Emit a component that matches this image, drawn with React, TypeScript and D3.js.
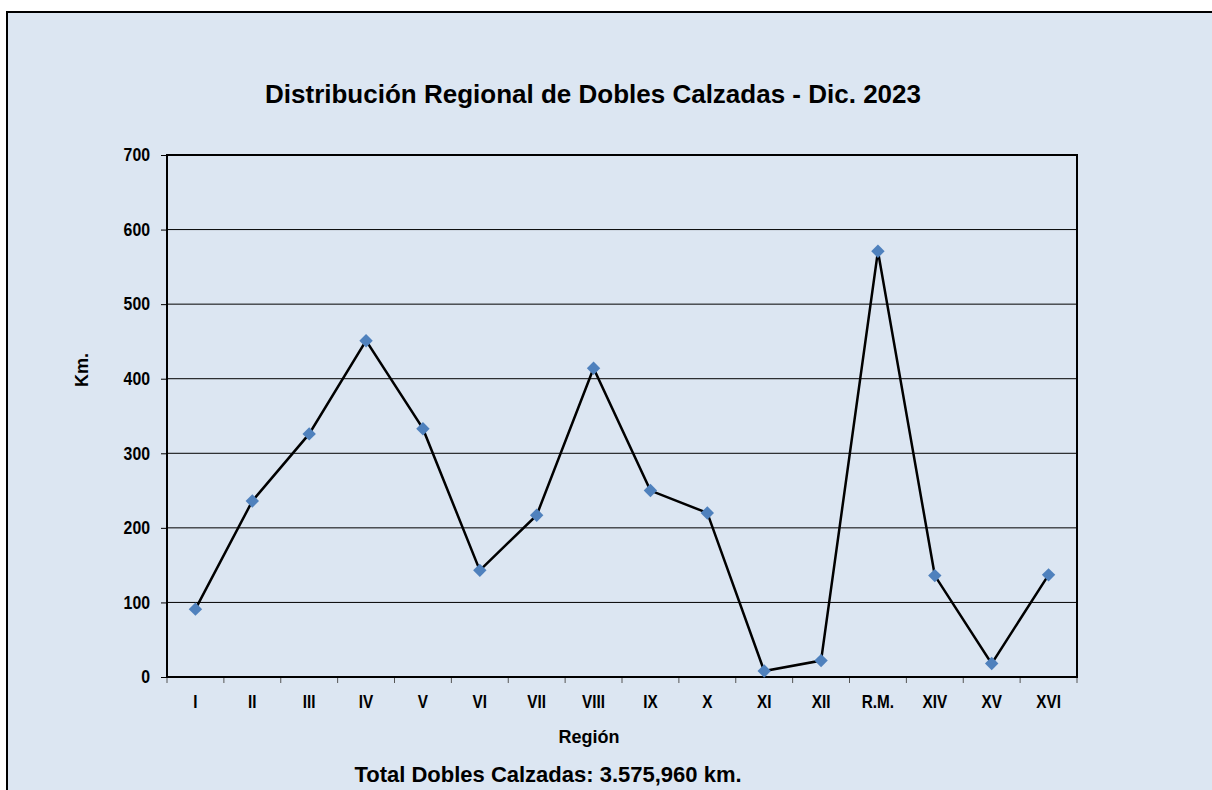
import React, { useEffect, useRef } from "react";
import * as d3 from "d3";

const regions = ["I", "II", "III", "IV", "V", "VI", "VII", "VIII", "IX", "X", "XI", "XII", "R.M.", "XIV", "XV", "XVI"];
const km = [91, 236, 326, 451, 333, 143, 217, 414, 250, 220, 8, 22, 571, 136, 18, 137];
const yTicks = [0, 100, 200, 300, 400, 500, 600, 700];

const title = "Distribución Regional de Dobles Calzadas - Dic. 2023";
const xTitle = "Región";
const yTitle = "Km.";
const footer = "Total Dobles Calzadas: 3.575,960 km.";

const W = 1212;
const H = 790;

const App = () => {
  const ref = useRef<SVGSVGElement>(null);

  useEffect(() => {
    const svg = d3.select(ref.current);
    svg.selectAll("*").remove();
    const font = "'Liberation Sans', Arial, sans-serif";

    // outer frame (runs past the right/bottom of the picture)
    svg.append("rect")
      .attr("x", 7).attr("y", 12)
      .attr("width", W + 20).attr("height", H + 20)
      .attr("fill", "#dce6f2")
      .attr("stroke", "#000").attr("stroke-width", 2);

    const margin = { top: 155, left: 167, right: 135, bottom: 113 };
    const innerW = W - margin.left - margin.right;
    const innerH = H - margin.top - margin.bottom;

    const x = d3.scaleBand().domain(regions).range([0, innerW]).padding(0);
    const y = d3.scaleLinear().domain([0, 700]).range([innerH, 0]);

    const g = svg.append("g").attr("transform", `translate(${margin.left},${margin.top})`);

    // gridlines
    g.selectAll(".grid")
      .data(yTicks.filter((t) => t > 0 && t < 700))
      .enter()
      .append("line")
      .attr("x1", 0).attr("x2", innerW)
      .attr("y1", (d) => y(d)).attr("y2", (d) => y(d))
      .attr("stroke", "#000").attr("stroke-width", 1);

    // y axis
    const yAxis = g.append("g").call(
      d3.axisLeft(y).tickValues(yTicks).tickSize(6).tickPadding(11).tickFormat(d3.format("d"))
    );
    yAxis.select(".domain").remove();
    yAxis.selectAll("line").attr("stroke", "#000");
    yAxis.selectAll("text")
      .attr("x", 0)
      .attr("transform", "translate(-17,0) scale(0.88,1)")
      .attr("font-family", font).attr("font-size", 18).attr("font-weight", "bold").attr("fill", "#000");

    // x axis labels
    const xAxis = g.append("g").attr("transform", `translate(0,${innerH})`)
      .call(d3.axisBottom(x).tickSize(0).tickPadding(18));
    xAxis.select(".domain").remove();
    xAxis.selectAll("text")
      .attr("transform", "scale(0.85,1)")
      .attr("font-family", font).attr("font-size", 18).attr("font-weight", "bold").attr("fill", "#000");

    // x ticks at category boundaries
    const bounds = regions.map((r) => x(r)!).concat([innerW]);
    g.selectAll(".xtick")
      .data(bounds)
      .enter()
      .append("line")
      .attr("x1", (d) => d).attr("x2", (d) => d)
      .attr("y1", innerH).attr("y2", innerH + 6)
      .attr("stroke", "#555").attr("stroke-width", 1);

    // plot frame
    g.append("rect")
      .attr("width", innerW).attr("height", innerH)
      .attr("fill", "none").attr("stroke", "#000").attr("stroke-width", 2);

    // series line
    const line = d3.line<number>()
      .x((d, i) => x(regions[i])! + x.bandwidth() / 2)
      .y((d) => y(d));
    g.append("path")
      .datum(km)
      .attr("d", line)
      .attr("fill", "none")
      .attr("stroke", "#000")
      .attr("stroke-width", 2.5)
      .attr("stroke-linejoin", "miter");

    // markers
    const diamond = d3.symbol().type(d3.symbolSquare).size(90);
    g.selectAll(".pt")
      .data(km)
      .enter()
      .append("path")
      .attr("d", diamond)
      .attr("transform", (d, i) => `translate(${x(regions[i])! + x.bandwidth() / 2},${y(d)}) rotate(45)`)
      .attr("fill", "#4f81bd");

    // texts
    svg.append("text")
      .attr("x", 593).attr("y", 103)
      .attr("text-anchor", "middle")
      .attr("font-family", font).attr("font-size", 26).attr("font-weight", "bold")
      .text(title);

    svg.append("text")
      .attr("x", 589).attr("y", 743)
      .attr("text-anchor", "middle")
      .attr("font-family", font).attr("font-size", 18).attr("font-weight", "bold")
      .text(xTitle);

    svg.append("text")
      .attr("transform", `translate(88,370) rotate(-90)`)
      .attr("text-anchor", "middle")
      .attr("font-family", font).attr("font-size", 18).attr("font-weight", "bold")
      .text(yTitle);

    svg.append("text")
      .attr("x", 548).attr("y", 782)
      .attr("text-anchor", "middle")
      .attr("font-family", font).attr("font-size", 22).attr("font-weight", "bold")
      .text(footer);
  }, []);

  return (
    <svg
      ref={ref}
      width={W}
      height={H}
      style={{ position: "absolute", left: 0, top: 0, background: "#fff" }}
    />
  );
};

export default App;
